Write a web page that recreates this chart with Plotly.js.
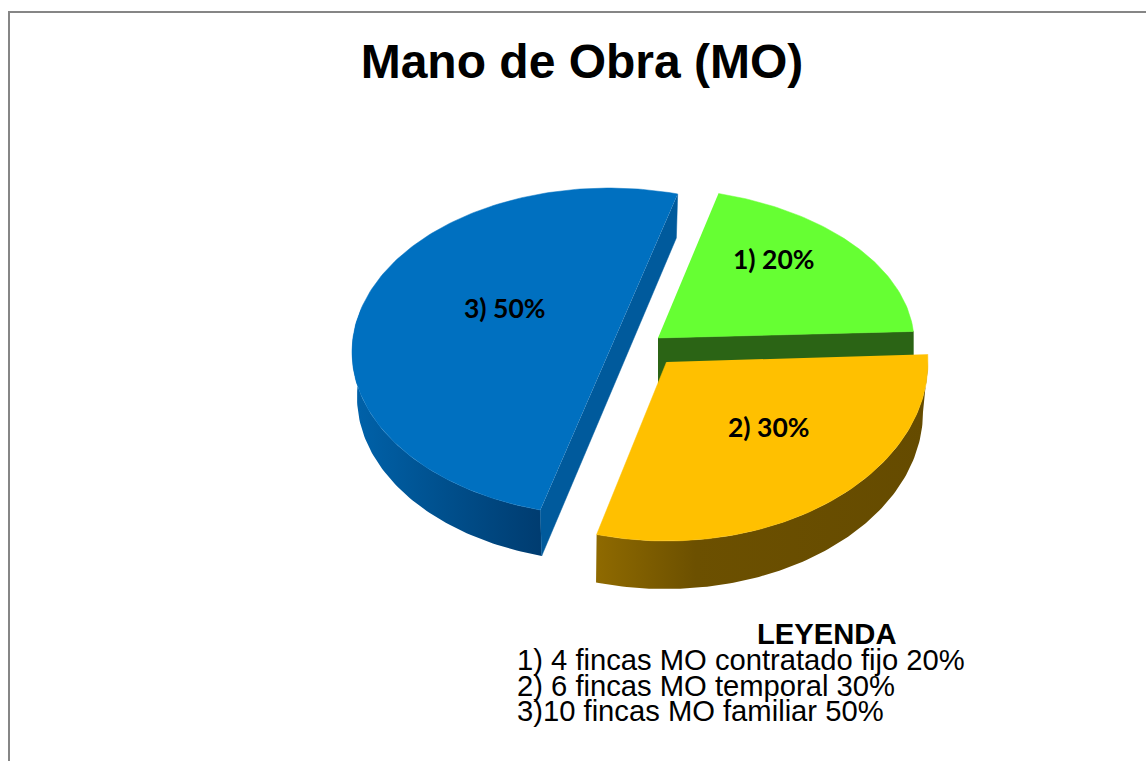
<!DOCTYPE html>
<html>
<head>
<meta charset="utf-8">
<script src="https://cdn.plot.ly/plotly-3.0.1.min.js"></script>
<style>html,body{margin:0;padding:0;background:#fff}#chart{width:1146px;height:761px}</style>
</head>
<body>
<div id="chart"></div>
<script>
// Data
const categories = ["4 fincas MO contratado fijo", "6 fincas MO temporal", "10 fincas MO familiar"];
const fincas = [4, 6, 10];
const percents = [20, 30, 50];
const legendLines = ["1) 4 fincas MO contratado fijo 20%", "2) 6 fincas MO temporal 30%", "3)10 fincas MO familiar 50%"];
const titleText = "Mano de Obra (MO)";
const legendTitle = "LEYENDA";

// Projection and styling of the tilted, exploded pie
const startAngle = 15.5;
const sliceStyle = [
  {top:{cx:658,cy:338,a:256,b:150,skew:0.055},
   topColor:"#66ff33", faceColor:"#2b6415", labelAt:[774,259]},
  {top:{cx:666.5,cy:362,a:261.5,b:179,skew:0}, bottom:{cx:665,cy:412,a:258,b:177,skew:0},
   topColor:"#ffc000", faceColor:"#6b5000", wallScale:[[0,"#8f6a00"],[0.3,"#6c5000"],[1,"#654b00"]], labelAt:[769,427]},
  {top:{cx:609,cy:352,a:257,b:164,skew:0}, bottom:{cx:609,cy:397,a:252,b:165,skew:0},
   topColor:"#0070c0", faceColor:"#005a9c", wallScale:[[0,"#0062aa"],[0.45,"#00518f"],[1,"#003c70"]], labelAt:[505,308]}
];

function pt(e, deg){
  const r = deg*Math.PI/180;
  const y = -e.b*Math.cos(r);
  return [e.cx + e.a*Math.sin(r) + e.skew*y, e.cy + y];
}
function arc(e, from, to){
  const n = Math.max(2, Math.ceil(Math.abs(to-from)));
  const out = [];
  for(let i=0;i<=n;i++) out.push(pt(e, from+(to-from)*i/n));
  return out;
}
function poly(points, color, scale){
  const t = {type:"scatter", mode:"lines", x:points.map(p=>p[0]), y:points.map(p=>p[1]),
    fill:"toself", line:{width:0.5, color:color}, hoverinfo:"skip", showlegend:false};
  if(scale){ t.fillgradient = {type:"horizontal", colorscale:scale}; t.line = {width:0}; }
  else t.fillcolor = color;
  return t;
}

const total = percents.reduce((s,v)=>s+v,0);
let acc = startAngle;
const spans = percents.map(v=>{const s=[acc,acc+360*v/total]; acc=s[1]; return s;});
const greenDepth = 45;

const traces = [];
// blue first, then green, then orange on top of green's cut face
[2,0,1].forEach(i=>{
  const st = sliceStyle[i], [a0,a1] = spans[i];
  if(i===2){
    traces.push(poly(arc(st.top,285,a0).concat(arc(st.bottom,a0,285)), st.faceColor, st.wallScale));
    traces.push(poly([pt(st.top,a0),pt(st.bottom,a0),pt(st.bottom,a1),pt(st.top,a1)], st.faceColor));
  } else if(i===0){
    const e = pt(st.top,a1);
    traces.push(poly([[st.top.cx,st.top.cy],e,[e[0],e[1]+greenDepth],[st.top.cx,st.top.cy+greenDepth]], st.faceColor));
  } else {
    traces.push(poly(arc(st.top,a1,90).concat(arc(st.bottom,90,a1)), st.faceColor, st.wallScale));
  }
  const outline = arc(st.top,a0,a1);
  if(i!==2) outline.push([st.top.cx,st.top.cy]);
  traces.push(poly(outline, st.topColor));
});

const sliceLabels = percents.map((v,i)=>({
  text:(i+1)+") "+v+"%", x:sliceStyle[i].labelAt[0], y:sliceStyle[i].labelAt[1],
  xref:"x", yref:"y", showarrow:false, xanchor:"center", yanchor:"middle",
  font:{family:"Lato, Carlito, sans-serif", size:26.5, color:"#000", weight:"bold"}
}));
const legendFont = {family:"Liberation Sans, Arial, sans-serif", size:29.2, color:"#000"};
const legendRows = [660,686,711];
const legendAnn = legendLines.map((t,i)=>({
  text:t, x:514.5, y:legendRows[i], xref:"x", yref:"y", showarrow:false,
  xanchor:"left", yanchor:"middle", font:legendFont
}));
legendAnn.push({text:legendTitle, x:826, y:634, xref:"x", yref:"y", showarrow:false,
  xanchor:"center", yanchor:"middle", font:Object.assign({},legendFont,{weight:"bold"})});

const layout = {
  width:1146, height:761, margin:{l:0,r:0,t:0,b:0},
  paper_bgcolor:"#fff", plot_bgcolor:"#fff", showlegend:false,
  title:{text:titleText, x:582/1146, xanchor:"center", y:1-61/761, yanchor:"middle",
    font:{family:"Liberation Sans, Arial, sans-serif", size:48, color:"#000", weight:"bold"}},
  xaxis:{range:[0,1146], visible:false, fixedrange:true},
  yaxis:{range:[761,0], visible:false, fixedrange:true},
  shapes:[
    {type:"line", xref:"x", yref:"y", x0:8, x1:1146, y0:12, y1:12, line:{color:"#868686", width:2}},
    {type:"line", xref:"x", yref:"y", x0:9, x1:9, y0:11, y1:761, line:{color:"#868686", width:2}}
  ],
  annotations:sliceLabels.concat(legendAnn)
};
Plotly.newPlot("chart", traces, layout, {displayModeBar:false, staticPlot:true});
</script>
</body>
</html>
